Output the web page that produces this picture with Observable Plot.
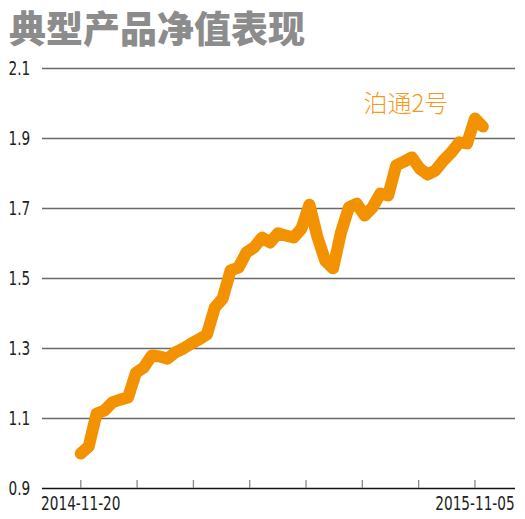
<!DOCTYPE html>
<html>
<head>
<meta charset="utf-8">
<script src="https://cdn.jsdelivr.net/npm/d3@7"></script>
<script src="https://cdn.jsdelivr.net/npm/@observablehq/plot@0.6"></script>
<style>
  html, body { margin: 0; padding: 0; background: #fff; overflow: hidden; }
  #title { height: 55px; box-sizing: border-box; padding: 0 0 0 9px;
    font-family: "Noto Sans CJK SC", sans-serif; font-weight: 900; font-size: 37px;
    line-height: 54px; color: #8c8c8c; white-space: nowrap; overflow: visible; }
</style>
</head>
<body>
<div id="title"></div>
<div id="chart"></div>
<script>
const titleText = "典型产品净值表现";
const seriesName = "泊通2号";
const startDate = "2014-11-20";
// weekly net values, 2014-11-20 onward
const values = [
  1.000, 1.020, 1.114, 1.123, 1.146, 1.154, 1.160, 1.231, 1.246, 1.280,
  1.277, 1.271, 1.289, 1.300, 1.314, 1.326, 1.340, 1.417, 1.443, 1.523,
  1.531, 1.574, 1.589, 1.617, 1.603, 1.629, 1.623, 1.617, 1.643, 1.711,
  1.620, 1.551, 1.529, 1.631, 1.703, 1.714, 1.680, 1.703, 1.743, 1.737,
  1.823, 1.834, 1.846, 1.814, 1.797, 1.809, 1.837, 1.860, 1.889, 1.886,
  1.957, 1.934
];
const yTicks = [0.9, 1.1, 1.3, 1.5, 1.7, 1.9, 2.1];
const xTickLabels = ["2014-11-20", "2015-11-05"];
const xTickStrings = ["2014-11-20", "2015-01-09", "2015-02-28", "2015-04-19", "2015-06-08", "2015-07-28", "2015-09-16", "2015-11-05"];
const xDomainStrings = ["2014-10-17", "2015-12-11"];

const parse = d3.utcParse("%Y-%m-%d");
const fmt = d3.utcFormat("%Y-%m-%d");
const start = parse(startDate);
const data = values.map((v, i) => ({date: d3.utcDay.offset(start, 7 * i), value: v}));
const xTicks = xTickStrings.map(parse);
const xLabelTicks = xTickLabels.map(parse);
const last = data[data.length - 1];
const numFont = '"Liberation Sans Narrow", "DejaVu Sans Condensed", sans-serif';

document.getElementById("title").textContent = titleText;

const chart = Plot.plot({
  width: 525,
  height: 464,
  marginTop: 13,
  marginBottom: 31,
  marginLeft: 42,
  marginRight: 10,
  style: {background: "#fff", overflow: "visible"},
  x: {type: "utc", domain: xDomainStrings.map(parse)},
  y: {domain: [0.9, 2.1]},
  marks: [
    Plot.ruleY(yTicks, {stroke: d => d === 0.9 ? "#111" : "#6a6a6a", strokeWidth: 1.3}),
    Plot.ruleX(xTicks, {x: d => d, y1: 0.9, y2: 0.9, insetTop: -8, stroke: "#888", strokeWidth: 1.3}),
    Plot.axisY({ticks: yTicks, tickSize: 0, tickPadding: 3, textAnchor: "start", dx: -31,
      tickFormat: d3.format(".1f"), label: null, fontSize: 20, fontFamily: numFont, fill: "#222"}),
    Plot.axisX({ticks: xLabelTicks, tickSize: 0, tickPadding: 7, tickFormat: fmt, label: null,
      fontSize: 20, fontFamily: numFont, fill: "#222"}),
    Plot.line(data, {x: "date", y: "value", stroke: "#f39200", strokeWidth: 12,
      strokeLinecap: "round", strokeLinejoin: "round"}),
    Plot.text([last], {x: "date", y: "value", text: () => seriesName, dx: -77, dy: -22,
      fill: "#f39a1e", fontSize: 24, fontWeight: 300, fontFamily: '"Noto Sans CJK SC", sans-serif'})
  ]
});
// condense the numeric tick labels horizontally
d3.select(chart).selectAll('g[aria-label="y-axis tick label"] text, g[aria-label="x-axis tick label"] text')
  .attr("transform", function() {
    const t = this.getAttribute("transform") || "";
    return t + " scale(0.76,1)";
  });
document.getElementById("chart").appendChild(chart);
</script>
</body>
</html>
